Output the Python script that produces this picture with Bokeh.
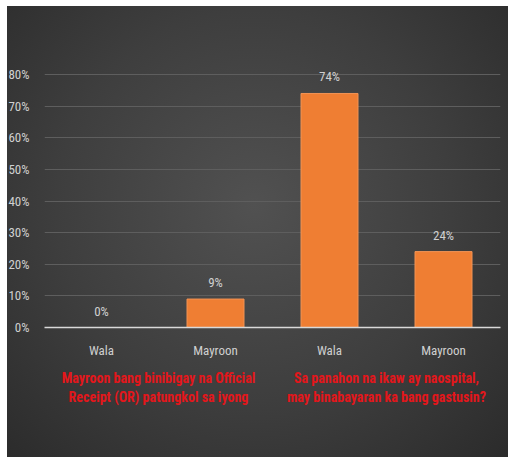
from bokeh.plotting import figure
from bokeh.models import FactorRange, ColumnDataSource, LabelSet, NumeralTickFormatter, FixedTicker
from bokeh.core.properties import value
from bokeh.embed import file_html
from bokeh.resources import INLINE

groups = ["Mayroon bang binibigay na Official\nReceipt (OR) patungkol sa iyong",
          "Sa panahon na ikaw ay naospital,\nmay binabayaran ka bang gastusin?"]
answers = ["Wala", "Mayroon"]
values = [0.00, 0.09, 0.74, 0.24]
value_labels = ["0%", "9%", "74%", "24%"]
y_ticks = [0, 0.1, 0.2, 0.3, 0.4, 0.5, 0.6, 0.7, 0.8]

factors = [(g, a) for g in groups for a in answers]
src = ColumnDataSource(dict(x=factors, y=values, lab=value_labels))

FONT = "Roboto Condensed"

# 0.8 sits 253 px above 0; the frame reaches 40 px higher so the top label is not clipped
p = figure(width=508, height=457, output_backend="svg", toolbar_location=None,
           x_range=FactorRange(*factors, group_padding=0, range_padding=0),
           y_range=(0, 0.8 + 0.8 * 40 / 253),
           min_border_left=44, min_border_right=8, min_border_top=34, min_border_bottom=130)

p.background_fill_alpha = 0
p.border_fill_alpha = 0
p.outline_line_color = None
p.styles = {"background":
            "linear-gradient(#ffffff, #ffffff) 0 0 / 7px 100% no-repeat, "
            "linear-gradient(#ffffff, #ffffff) 0 0 / 100% 6px no-repeat, "
            "radial-gradient(ellipse at 50% 45%, #515151 0%, #3e3e3e 55%, #2b2b2b 100%)"}

p.vbar(x="x", top="y", width=0.5, source=src, fill_color="#EF7E33", line_color="#F29355", line_width=1)

labels = LabelSet(x="x", y="y", text="lab", source=src, y_offset=9, text_align="center",
                  text_baseline="bottom", text_color="#d0d0d0", text_font_size="13px",
                  text_font=value(FONT))
p.add_layout(labels)

p.ygrid.ticker = FixedTicker(ticks=y_ticks)
p.ygrid.grid_line_color = "#5e5e5e"
p.ygrid.grid_line_width = 1
p.xgrid.grid_line_color = None

p.yaxis.ticker = FixedTicker(ticks=y_ticks)
p.yaxis.formatter = NumeralTickFormatter(format="0%")
p.yaxis.axis_line_color = None
p.yaxis.major_tick_line_color = None
p.yaxis.minor_tick_line_color = None
p.yaxis.major_label_text_color = "#d0d0d0"
p.yaxis.major_label_text_font = FONT
p.yaxis.major_label_text_font_size = "13px"
p.yaxis.major_label_standoff = 9

xa = p.xaxis[0]
xa.axis_line_color = "#d9d9d9"
xa.axis_line_width = 1.5
xa.major_tick_line_color = None
xa.minor_tick_line_color = None
xa.major_label_text_color = "#d0d0d0"
xa.major_label_text_font = FONT
xa.major_label_text_font_size = "13px"
xa.major_label_standoff = 9
xa.group_text_color = "#e3161b"
xa.group_text_font = FONT
xa.group_text_font_style = "bold"
xa.group_text_font_size = "14px"
xa.group_label_orientation = "horizontal"
xa.separator_line_alpha = 0

open("out.html", "w").write(file_html(p, INLINE))
